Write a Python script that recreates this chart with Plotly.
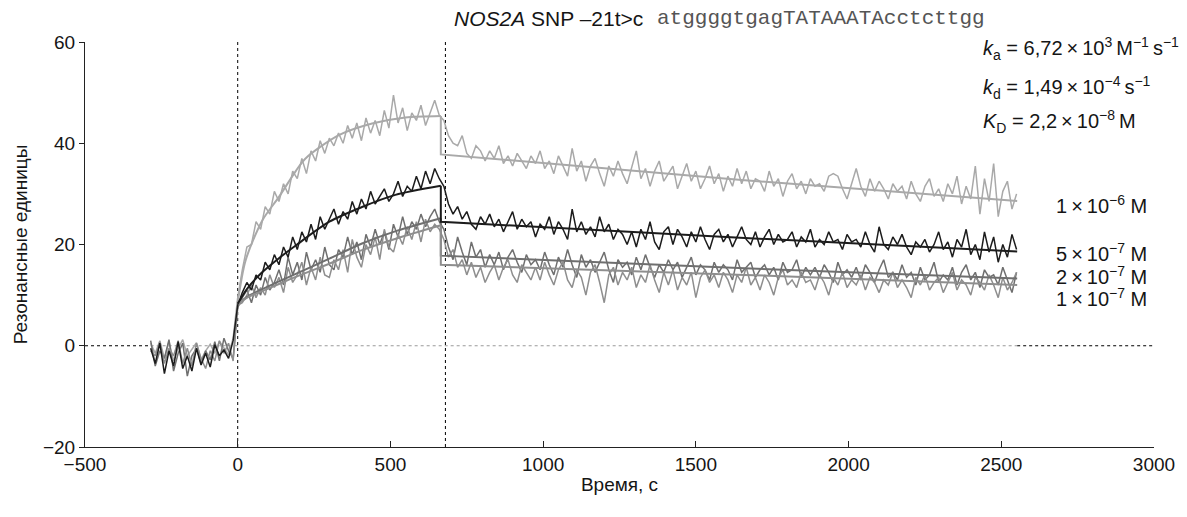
import plotly.graph_objects as go

# sampling grid of the sensorgram, s (baseline -285..-15, association 0..660, dissociation 675..2550)
time_s = list(range(-285, 2551, 15))

# 1e-6 M (light grey)
base_1e6 = [0.5, -1.5, 1.0, -2.5, 0.8, -3.0, -0.5, 1.2, -2.0, -0.8, 0.6, -2.8, -1.0, 0.3, -1.5, 0.9, -0.5, -1.8, 1.5]
assoc_1e6 = [9.5, 15.0, 19.5, 20.0, 24.5, 23.0, 27.5, 26.0, 30.5, 28.5, 32.0, 30.0, 34.5, 33.0, 37.0,
             34.0, 38.5, 36.5, 40.5, 38.0, 41.0, 39.5, 42.0, 40.0, 43.5, 41.0, 44.0, 40.5, 45.0, 42.0,
             44.5, 41.5, 46.5, 43.0, 49.5, 44.0, 47.0, 42.5, 46.0, 44.5, 47.5, 43.5, 46.0, 48.5, 45.5]
dissoc_1e6 = [44.5, 41.5, 40.0, 39.5, 41.5, 38.0, 37.0, 39.5, 38.5, 36.5,
              38.5, 37.0, 39.5, 36.0, 37.5, 35.5, 38.0, 36.5, 35.0, 37.5,
              36.0, 38.5, 35.0, 36.5, 34.0, 37.5, 35.5, 33.5, 39.0, 34.5,
              36.5, 32.5, 35.5, 37.0, 34.0, 31.5, 35.5, 33.5, 36.5, 34.0,
              32.0, 35.5, 38.5, 33.0, 35.0, 31.5, 34.5, 36.5, 32.5, 34.0,
              35.5, 31.0, 33.5, 36.0, 32.5, 34.5, 31.0, 33.0, 35.5, 32.0,
              34.0, 30.5, 33.5, 31.5, 35.0, 32.0, 34.5, 31.0, 33.0, 32.5,
              30.5, 34.5, 31.5, 33.0, 29.5, 32.5, 34.0, 31.0, 32.5, 30.0,
              33.0, 31.5, 32.0, 30.5, 33.5, 34.0, 33.5, 31.0, 29.0, 32.0,
              35.0, 31.5, 29.5, 33.0, 30.5, 32.5, 31.0, 29.0, 32.0, 30.5,
              31.5, 29.0, 32.5, 30.0, 28.5, 31.5, 33.0, 29.5, 31.0, 28.5,
              32.0, 30.0, 33.5, 28.0, 31.5, 29.0, 35.5, 26.0, 33.0, 28.5,
              36.0, 25.5, 30.5, 32.5, 27.0, 30.0]

# 5e-7 M (black)
base_5e7 = [-0.5, -3.5, 0.5, -5.5, -1.0, -4.0, 0.8, -4.5, -2.0, -5.0, -0.5, -3.8, -1.5, -4.2, 0.2, -2.0, -0.8, -2.5, 1.0]
assoc_5e7 = [8.0, 10.5, 12.5, 11.0, 14.0, 13.0, 16.5, 15.0, 18.0, 16.0, 19.5, 17.5, 21.5, 19.0, 22.5,
             20.5, 24.0, 21.0, 25.5, 23.0, 25.0, 27.0, 24.0, 26.5, 25.0, 28.5, 26.0, 29.0, 27.0, 30.5,
             28.0, 29.5, 31.0, 28.5, 30.0, 32.5, 29.5, 31.5, 30.5, 33.5, 31.0, 34.5, 32.0, 35.0, 33.0]
dissoc_5e7 = [31.5, 28.0, 26.0, 27.5, 25.0, 26.5, 24.0, 23.0, 25.5, 24.0,
              26.0, 23.5, 25.0, 22.5, 24.5, 26.5, 23.0, 25.0, 23.5, 24.5,
              21.5, 24.0, 23.0, 25.5, 22.0, 24.5, 23.0, 21.0, 27.0, 22.5,
              24.5, 22.0, 23.5, 21.5, 25.5, 22.5, 24.0, 21.0, 23.0, 22.0,
              20.0, 22.5, 19.5, 23.0, 21.0, 24.5, 20.5, 19.0, 22.5, 23.5,
              20.0, 23.0, 21.5, 19.5, 22.5, 20.5, 23.5, 21.0, 19.0, 22.0,
              23.0, 20.5, 22.0, 19.5, 21.5, 23.5, 21.0, 20.0, 22.5, 19.5,
              21.5, 23.0, 20.0, 22.0, 20.5, 21.0, 22.5, 19.5, 21.5, 20.5,
              23.0, 19.5, 21.0, 20.0, 22.5, 20.5, 21.0, 19.0, 22.0, 20.5,
              21.0, 19.5, 22.5, 20.0, 18.5, 23.5, 20.0, 19.0, 21.5, 20.0,
              22.0, 19.5, 18.0, 20.5, 19.5, 21.0, 18.5, 20.0, 22.5, 19.0,
              20.5, 17.5, 21.0, 19.5, 23.0, 18.0, 20.0, 17.0, 22.5, 18.5,
              21.5, 16.5, 20.0, 17.5, 22.0, 19.0]

# 2e-7 M (dark grey)
base_2e7 = [1.0, -4.0, -1.0, -2.5, 1.2, -5.0, -1.5, 0.5, -6.0, -2.0, -0.5, -3.5, -1.0, -2.8, 0.8, -3.0, 1.5, -1.0, -2.5]
assoc_2e7 = [7.5, 9.5, 11.0, 8.5, 12.0, 10.0, 13.5, 11.0, 12.5, 15.0, 12.0, 17.5, 14.0, 16.5, 13.0,
             18.5, 15.0, 17.0, 14.5, 19.5, 16.0, 15.0, 19.0, 17.5, 21.5, 18.0, 20.5, 17.0, 22.0, 19.5,
             23.0, 20.0, 22.5, 19.0, 24.0, 21.5, 25.5, 22.0, 24.5, 23.0, 26.0, 23.5, 25.5, 27.0, 24.5]
dissoc_2e7 = [23.0, 19.5, 17.0, 21.5, 18.5, 16.0, 20.5, 17.5, 19.0, 15.5,
              18.0, 16.0, 18.5, 15.0, 17.5, 19.0, 16.5, 14.5, 18.0, 16.0,
              17.0, 15.0, 18.5, 16.0, 14.0, 17.5, 15.5, 19.0, 16.0, 13.5,
              18.0, 15.5, 17.0, 14.5, 16.5, 18.5, 15.0, 12.5, 17.0, 15.5,
              16.5, 14.0, 17.5, 15.0, 18.0, 15.5, 13.5, 16.0, 14.5, 17.0,
              15.0, 16.5, 13.5, 15.5, 17.5, 14.0, 16.0, 15.0, 13.0, 16.5,
              14.5, 16.0, 15.0, 13.0, 17.0, 14.5, 15.5, 16.5, 13.5, 15.0,
              16.0, 14.0, 15.5, 13.0, 16.5, 14.5, 15.0, 17.0, 13.5, 15.5,
              14.0, 15.5, 13.5, 16.0, 14.5, 12.5, 16.5, 14.0, 15.0, 13.5,
              15.5, 13.0, 16.0, 14.5, 12.5, 15.0, 17.0, 13.5, 14.5, 13.0,
              16.0, 13.5, 14.5, 12.0, 15.5, 13.0, 14.0, 16.5, 12.5, 14.0,
              13.0, 15.5, 12.0, 14.5, 16.0, 13.0, 14.5, 11.5, 15.0, 13.5,
              14.0, 12.0, 15.5, 13.0, 10.5, 14.5]

# 1e-7 M (mid grey)
base_1e7 = [-1.0, -2.0, 0.8, -3.5, -0.5, -2.0, 1.0, -3.5, -0.5, -4.0, 0.5, -2.5, -4.5, -1.0, -3.0, 1.0, -1.5, 0.5, -3.0]
assoc_1e7 = [8.0, 8.5, 10.0, 12.0, 9.5, 11.5, 10.0, 14.0, 11.5, 13.5, 10.5, 15.5, 12.5, 14.0, 16.5,
             12.0, 15.5, 13.0, 17.5, 14.0, 13.5, 17.0, 15.0, 19.0, 14.5, 21.0, 17.5, 15.5, 20.0, 18.0,
             21.5, 17.0, 23.0, 19.5, 18.5, 22.0, 20.0, 23.5, 21.0, 24.5, 20.5, 25.0, 22.5, 24.0, 23.0]
dissoc_1e7 = [21.0, 17.5, 19.0, 15.5, 17.0, 14.0, 16.5, 13.5, 15.5, 12.5,
              14.5, 16.0, 13.0, 15.5, 17.0, 14.0, 12.5, 16.0, 14.5, 13.0,
              15.5, 13.0, 16.5, 14.0, 12.0, 15.0, 16.5, 13.0, 11.5, 15.0,
              13.5, 10.0, 14.5, 16.0, 12.5, 8.5, 14.0, 15.5, 12.0, 14.5,
              13.0, 15.5, 11.5, 14.0, 12.5, 16.0, 13.0, 10.5, 14.5, 12.0,
              15.0, 11.0, 13.5, 12.0, 14.5, 9.5, 13.5, 15.0, 12.5, 14.0,
              11.5, 14.5, 13.0, 10.5, 14.0, 12.5, 15.5, 12.0, 13.5, 11.0,
              14.0, 12.5, 10.0, 13.5, 15.0, 12.0, 13.0, 11.5, 14.5, 12.5,
              13.0, 11.0, 14.0, 12.5, 10.0, 13.5, 12.0, 14.5, 11.5, 13.0,
              12.0, 14.0, 11.0, 13.5, 12.5, 10.5, 13.0, 12.0, 14.5, 11.5,
              13.0, 11.5, 9.5, 13.5, 12.0, 14.0, 11.0, 12.5, 13.5, 10.5,
              12.5, 14.5, 11.0, 13.0, 12.0, 10.0, 13.5, 12.5, 11.0, 14.0,
              12.0, 9.5, 13.5, 11.0, 12.5, 14.5]

# 1:1 model fits, read at a few times
fit_assoc_t = {
    "1e6": [0, 26, 81, 135, 190, 222, 331, 440, 549, 665],
    "5e7": [0, 30, 80, 135, 190, 300, 407, 516, 665],
    "2e7": [0, 40, 81, 135, 190, 300, 407, 520, 665],
    "1e7": [0, 40, 81, 135, 190, 300, 407, 520, 665],
}
fit_assoc_v = {
    "1e6": [8.5, 16.9, 24.8, 29.4, 34.5, 37.0, 41.6, 43.9, 45.1, 45.4],
    "5e7": [8.3, 11.2, 14.5, 17.3, 19.8, 24.5, 27.4, 29.8, 31.6],
    "2e7": [8.3, 10.0, 11.2, 12.7, 14.2, 17.2, 20.2, 22.7, 25.2],
    "1e7": [8.3, 9.8, 10.8, 12.2, 13.6, 16.2, 18.9, 21.2, 23.8],
}
fit_dissoc_t = [665, 1660, 2552]
fit_dissoc_v = {
    "1e6": [37.8, 32.7, 28.6],
    "5e7": [24.5, 21.3, 18.6],
    "2e7": [17.8, 15.3, 13.3],
    "1e7": [16.0, 14.0, 12.0],
}

series = [
    ("1e6", base_1e6 + assoc_1e6 + dissoc_1e6, "#a9a9a9"),
    ("2e7", base_2e7 + assoc_2e7 + dissoc_2e7, "#6f6f6f"),
    ("1e7", base_1e7 + assoc_1e7 + dissoc_1e7, "#8e8e8e"),
    ("5e7", base_5e7 + assoc_5e7 + dissoc_5e7, "#1c1c1c"),
]

fig = go.Figure()

for key, vals, col in series:
    fig.add_trace(go.Scatter(x=time_s, y=vals, mode="lines",
                             line=dict(color=col, width=1.5), hoverinfo="skip"))

for key, vals, col in series:
    fig.add_trace(go.Scatter(x=fit_assoc_t[key], y=fit_assoc_v[key], mode="lines",
                             line=dict(color=col, width=2, shape="spline", smoothing=0.8),
                             hoverinfo="skip"))
    # vertical drop at injection end + slow decay
    fig.add_trace(go.Scatter(x=[fit_assoc_t[key][-1]] + fit_dissoc_t,
                             y=[fit_assoc_v[key][-1]] + fit_dissoc_v[key], mode="lines",
                             line=dict(color=col, width=2), hoverinfo="skip"))

# reference lines
shapes = [
    dict(type="line", xref="x", yref="y", x0=0, x1=0, y0=-20, y1=60,
         line=dict(color="black", width=1, dash="dot"), layer="below"),
    dict(type="line", xref="x", yref="y", x0=680, x1=680, y0=-20, y1=60,
         line=dict(color="black", width=1, dash="dot"), layer="below"),
    dict(type="line", xref="x", yref="y", x0=-500, x1=-285, y0=0, y1=0,
         line=dict(color="black", width=1, dash="dot"), layer="below"),
    dict(type="line", xref="x", yref="y", x0=2552, x1=3000, y0=0, y1=0,
         line=dict(color="black", width=1, dash="dot"), layer="below"),
    dict(type="line", xref="x", yref="y", x0=-285, x1=2552, y0=0, y1=0,
         line=dict(color="#9a9a9a", width=1, dash="dot"), layer="below"),
]

font = "Liberation Sans, Arial, sans-serif"
ink = "#151515"
ts = "\u2009×\u2009"
annotations = [
    dict(text="<i>NOS2A</i> SNP –21t&gt;c", x=0.524, y=1.058, xanchor="right",
         font=dict(family=font, size=21, color=ink)),
    dict(text="atggggtgagTATAAATAcctcttgg", x=0.533, y=1.058, xanchor="left",
         font=dict(family="Liberation Mono, Courier New, monospace", size=21, color="#555")),
    dict(text=f"<i>k</i><sub>a</sub> = 6,72{ts}10<sup>3</sup>\u2009M<sup>−1</sup>\u2009s<sup>−1</sup>",
         x=0.838, y=0.985, xanchor="left"),
    dict(text=f"<i>k</i><sub>d</sub> = 1,49{ts}10<sup>−4</sup>\u2009s<sup>−1</sup>",
         x=0.838, y=0.888, xanchor="left"),
    dict(text=f"<i>K</i><sub>D</sub> = 2,2{ts}10<sup>−8</sup>\u2009M",
         x=0.838, y=0.804, xanchor="left"),
    dict(text=f"1{ts}10<sup>−6</sup> M", x=0.906, y=0.598, xanchor="left"),
    dict(text=f"5{ts}10<sup>−7</sup> M", x=0.906, y=0.480, xanchor="left"),
    dict(text=f"2{ts}10<sup>−7</sup> M", x=0.906, y=0.423, xanchor="left"),
    dict(text=f"1{ts}10<sup>−7</sup> M", x=0.906, y=0.369, xanchor="left"),
]
for a in annotations:
    a.update(xref="paper", yref="paper", yanchor="middle", showarrow=False)
    a.setdefault("font", dict(family=font, size=20, color=ink))

# the page body adds an 8 px offset, so margins are shifted to keep the plot box in place
fig.update_layout(
    width=1187, height=517,
    margin=dict(l=71, r=41, t=34, b=78),
    plot_bgcolor="white", paper_bgcolor="white",
    showlegend=False,
    font=dict(family=font, size=19, color=ink),
    shapes=shapes, annotations=annotations,
    xaxis=dict(range=[-500, 3000], dtick=500, showgrid=False, zeroline=False,
               showline=True, linecolor="#222", linewidth=1,
               ticks="inside", ticklen=6, tickcolor="#222",
               title=dict(text="Время, с", font=dict(size=19), standoff=3)),
    yaxis=dict(range=[-20, 60], dtick=20, showgrid=False, zeroline=False,
               showline=True, linecolor="#222", linewidth=1,
               ticks="outside", ticklen=5, tickcolor="#222",
               title=dict(text="Резонансные единицы", font=dict(size=19), standoff=10)),
)

fig.write_html("out.html")
